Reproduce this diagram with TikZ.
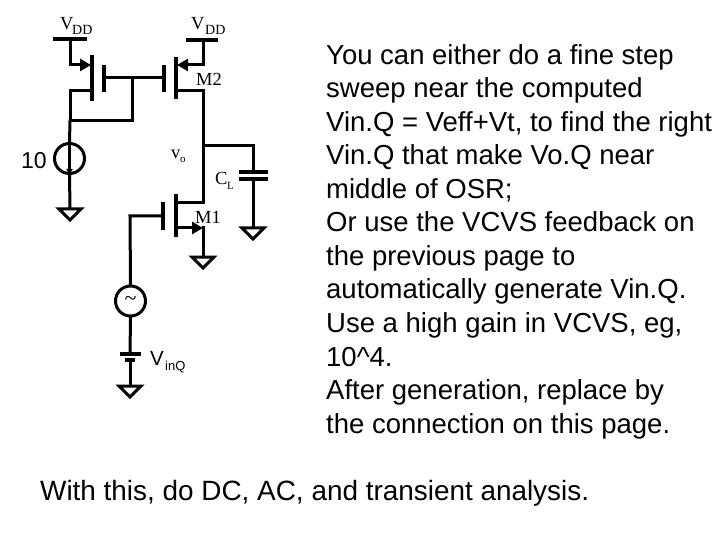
\documentclass[tikz,border=0pt]{standalone}
\usepackage{fontspec}
\setmainfont{Liberation Sans}
\newfontfamily\serifcirc{Liberation Serif}
\usetikzlibrary{arrows.meta}
\tikzset{
  wire/.style={line width=3pt,line cap=rect},
  plate/.style={line width=3.2pt},
  arrowwire/.style={line width=3pt,-{Triangle[length=11pt,width=12pt]}},
  source/.style={circle,draw,line width=3pt,minimum size=30pt,inner sep=0pt},
  lab/.style={font=\serifcirc\fontsize{18.5}{20}\selectfont,inner sep=0pt},
  sublab/.style={font=\serifcirc\fontsize{14}{16}\selectfont,inner sep=0pt},
  tinylab/.style={font=\serifcirc\fontsize{11}{12}\selectfont,inner sep=0pt},
  body/.style={font=\fontsize{27.5}{33.55}\selectfont,inner sep=0pt,align=left},
  gndshape/.pic={\draw[line width=3pt,line join=miter] (-11,1) -- (11,1) -- (0,12) -- cycle;}
}
\begin{document}
\begin{tikzpicture}[x=1pt,y=-1pt]
\useasboundingbox (0,0) rectangle (720,540);
\fill[white] (0,0) rectangle (720,540);
% left PMOS
\coordinate (vddL) at (70,39);
\coordinate (sL) at (70,65);
\coordinate (sLc) at (91,65);
\coordinate (dLc) at (92,91);
\coordinate (dL) at (70,91);
\coordinate (nL) at (70,121);
\coordinate (gnL) at (132,121);
\coordinate (gJ) at (132,78);
\coordinate (gL) at (104,78);
\coordinate (gR) at (164,78);
\node[source] (I0) at (69.5,158.5) {};
\coordinate (gndIa) at (70,208);
\draw[plate] (53,39) -- (87,39);
\draw[plate] (92,55) -- (92,101);
\draw[plate] (104,65) -- (104,92);
\draw[wire] (vddL) -- (sL);
\draw[arrowwire] (sL) -- (sLc);
\draw[wire] (dLc) -- (dL) -- (nL) -- (gnL) -- (gJ);
\draw[wire] (gL) -- (gR);
\draw[wire] (nL) -- (I0.north);
\draw[line width=2.2pt,-{Triangle[length=6pt,width=6pt]}] (I0.north) -- (I0.south);
\draw[wire] (I0.south) -- (gndIa);
\pic at (gndIa) {gndshape};
% M2
\coordinate (vddR) at (203,40);
\coordinate (sR) at (203,65);
\coordinate (sRc) at (177,65);
\coordinate (dRc) at (176,91);
\coordinate (dR) at (203,91);
\coordinate (out) at (203,146);
\coordinate (dM1) at (203,203);
\coordinate (dM1c) at (176,203);
\draw[plate] (186,40) -- (218,40);
\draw[plate] (176,57) -- (176,99);
\draw[plate] (164,65) -- (164,92);
\draw[wire] (vddR) -- (sR);
\draw[arrowwire] (sR) -- (sRc);
\draw[wire] (dRc) -- (dR) -- (out) -- (dM1) -- (dM1c);
% output cap
\coordinate (capT) at (253,146);
\coordinate (capP1) at (253,172);
\coordinate (capP2) at (253,179);
\coordinate (gndC) at (253,227);
\draw[wire] (out) -- (capT) -- (capP1);
\draw[plate] (239,172) -- (268,172);
\draw[plate] (239,179) -- (268,179);
\draw[wire] (capP2) -- (gndC);
\pic at (gndC) {gndshape};
% M1
\coordinate (sM1c) at (177,228);
\coordinate (sM1) at (203,228);
\coordinate (gndM1) at (203,256);
\coordinate (gM1) at (163,216);
\coordinate (gM1k) at (130,216);
\draw[plate] (176,194) -- (176,237);
\draw[plate] (163,202) -- (163,230);
\draw[arrowwire] (sM1c) -- (sM1);
\draw[wire] (sM1) -- (gndM1);
\pic at (gndM1) {gndshape};
\node[source] (Vs) at (130.5,301) {};
\draw[wire] (gM1) -- (gM1k) -- (Vs.north);
\node[font=\serifcirc\fontsize{22}{24}\selectfont,inner sep=0pt] (tilde) at (Vs.center) {\char`\~};
% battery
\coordinate (bat1) at (130,354);
\coordinate (bat2) at (130,360);
\coordinate (gndB) at (130,385);
\draw[wire] (Vs.south) -- (bat1);
\draw[plate] (120,354) -- (141,354);
\draw[line width=3.6pt] (125,360) -- (135,360);
\draw[wire] (bat2) -- (gndB);
\pic at (gndB) {gndshape};
% labels
\node[lab,anchor=base west] (tV1) at (60,30) {V};
\node[sublab,anchor=base west] (tD1) at (72,35) {DD};
\node[lab,anchor=base west] (tV2) at (191,30) {V};
\node[sublab,anchor=base west] (tD2) at (205,35) {DD};
\node[lab,anchor=base west] (tM2) at (196,86) {M2};
\node[lab,anchor=base west] (tM1) at (195,223) {M1};
\node[lab,anchor=base west] (tvo) at (171,159) {v};
\node[tinylab,anchor=base west] (tvos) at (180,163) {o};
\node[lab,anchor=base west] (tCL) at (215,185) {C};
\node[tinylab,anchor=base west] (tCLs) at (227,190) {L};
\node[anchor=base west,inner sep=0pt,font=\fontsize{23}{25}\selectfont] (t10) at (21,169) {10};
\node[anchor=base west,inner sep=0pt,font=\fontsize{20.5}{22}\selectfont] (tVi) at (150,365) {V};
\node[anchor=base west,inner sep=0pt,font=\fontsize{13}{15}\selectfont] (tVis) at (165,370) {inQ};
% text
\node[body,anchor=north west] (para) at (326,44) {You can either do a fine step\\sweep near the computed\\Vin.Q = Veff+Vt, to find the right\\Vin.Q that make Vo.Q near\\middle of OSR;\\Or use the VCVS feedback on\\the previous page to\\automatically generate Vin.Q.\\Use a high gain in VCVS, eg,\\10\^{}4.\\After generation, replace by\\the connection on this page.};
\node[anchor=base west,inner sep=0pt,font=\fontsize{27.9}{30}\selectfont] (foot) at (40,500) {With this, do DC, AC, and transient analysis.};
\end{tikzpicture}
\end{document}
